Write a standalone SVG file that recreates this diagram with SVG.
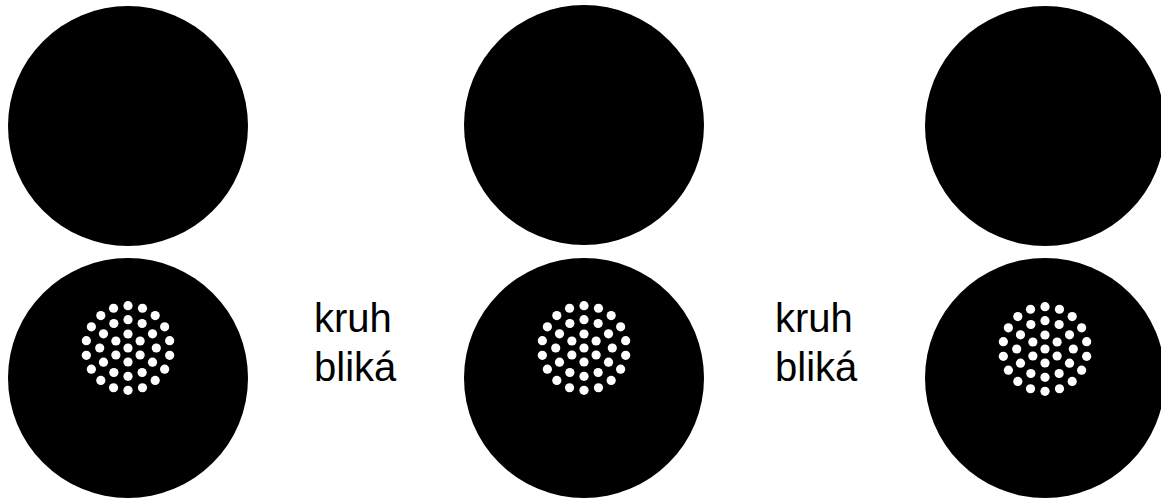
<svg xmlns="http://www.w3.org/2000/svg" xmlns:xlink="http://www.w3.org/1999/xlink" width="1161" height="498" viewBox="0 0 1161 498">
<style>
.lamp{fill:#000}
.dot{fill:#fff}
.lbl{font-family:"Liberation Sans",Arial,sans-serif;font-size:40px;fill:#000}
</style>
<defs>
<g id="cluster">
<circle class="dot" cx="0" cy="0" r="4.6"/>
<circle class="dot" cx="0" cy="-14" r="4.6"/>
<circle class="dot" cx="12.12" cy="-7" r="4.6"/>
<circle class="dot" cx="12.12" cy="7" r="4.6"/>
<circle class="dot" cx="0" cy="14" r="4.6"/>
<circle class="dot" cx="-12.12" cy="7" r="4.6"/>
<circle class="dot" cx="-12.12" cy="-7" r="4.6"/>
<circle class="dot" cx="28.3" cy="0" r="4.6"/>
<circle class="dot" cx="24.51" cy="-14.15" r="4.6"/>
<circle class="dot" cx="14.15" cy="-24.51" r="4.6"/>
<circle class="dot" cx="0" cy="-28.3" r="4.6"/>
<circle class="dot" cx="-14.15" cy="-24.51" r="4.6"/>
<circle class="dot" cx="-24.51" cy="-14.15" r="4.6"/>
<circle class="dot" cx="-28.3" cy="0" r="4.6"/>
<circle class="dot" cx="-24.51" cy="14.15" r="4.6"/>
<circle class="dot" cx="-14.15" cy="24.51" r="4.6"/>
<circle class="dot" cx="0" cy="28.3" r="4.6"/>
<circle class="dot" cx="14.15" cy="24.51" r="4.6"/>
<circle class="dot" cx="24.51" cy="14.15" r="4.6"/>
<circle class="dot" cx="41.66" cy="-7.35" r="4.6"/>
<circle class="dot" cx="36.63" cy="-21.15" r="4.6"/>
<circle class="dot" cx="27.19" cy="-32.4" r="4.6"/>
<circle class="dot" cx="14.47" cy="-39.75" r="4.6"/>
<circle class="dot" cx="0" cy="-42.3" r="4.6"/>
<circle class="dot" cx="-14.47" cy="-39.75" r="4.6"/>
<circle class="dot" cx="-27.19" cy="-32.4" r="4.6"/>
<circle class="dot" cx="-36.63" cy="-21.15" r="4.6"/>
<circle class="dot" cx="-41.66" cy="-7.35" r="4.6"/>
<circle class="dot" cx="-41.66" cy="7.35" r="4.6"/>
<circle class="dot" cx="-36.63" cy="21.15" r="4.6"/>
<circle class="dot" cx="-27.19" cy="32.4" r="4.6"/>
<circle class="dot" cx="-14.47" cy="39.75" r="4.6"/>
<circle class="dot" cx="0" cy="42.3" r="4.6"/>
<circle class="dot" cx="14.47" cy="39.75" r="4.6"/>
<circle class="dot" cx="27.19" cy="32.4" r="4.6"/>
<circle class="dot" cx="36.63" cy="21.15" r="4.6"/>
<circle class="dot" cx="41.66" cy="7.35" r="4.6"/>
</g>
</defs>
<rect width="1161" height="498" fill="#fff"/>
<g id="signal1-top"><circle class="lamp" cx="128" cy="126" r="120"/></g>
<g id="signal1-bottom"><circle class="lamp" cx="128" cy="378" r="120"/><use xlink:href="#cluster" href="#cluster" x="128" y="348"/></g>
<g id="label1"><text class="lbl" x="314" y="332">kruh</text><text class="lbl" x="314" y="381">bliká</text></g>
<g id="signal2-top"><circle class="lamp" cx="584" cy="125" r="120"/></g>
<g id="signal2-bottom"><circle class="lamp" cx="584" cy="378" r="120"/><use xlink:href="#cluster" href="#cluster" x="584" y="348"/></g>
<g id="label2"><text class="lbl" x="775" y="332">kruh</text><text class="lbl" x="775" y="381">bliká</text></g>
<g id="signal3-top"><circle class="lamp" cx="1045" cy="126" r="120"/></g>
<g id="signal3-bottom"><circle class="lamp" cx="1045" cy="378" r="120"/><use xlink:href="#cluster" href="#cluster" x="1045" y="349"/></g>
<g id="connectors"/>
</svg>
